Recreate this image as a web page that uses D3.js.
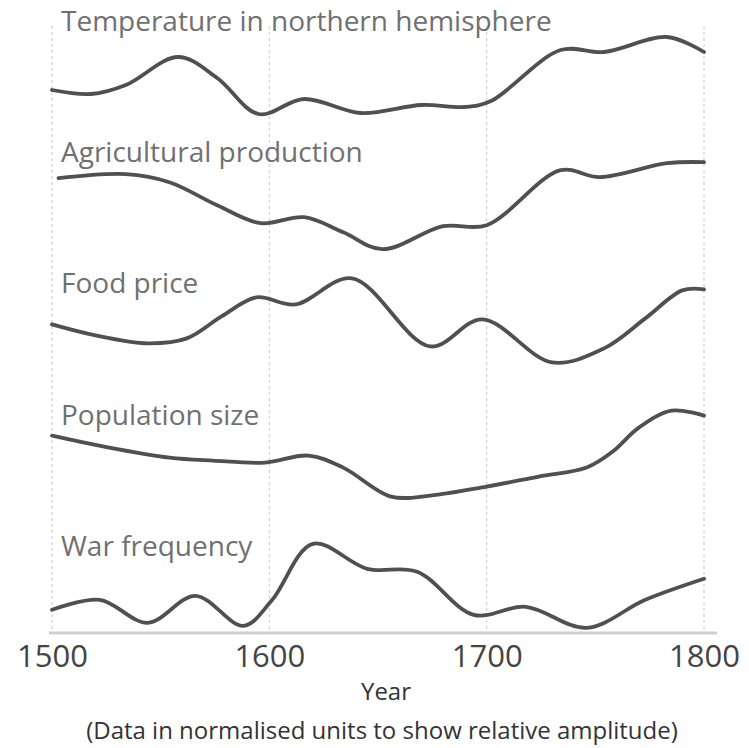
<!DOCTYPE html>
<html>
<head>
<meta charset="utf-8">
<script src="https://cdn.jsdelivr.net/npm/d3@7"></script>
<style>
  body { margin: 0; background: #fff; }
  svg text { font-family: "Open Sans", sans-serif; }
</style>
</head>
<body>
<div id="chart"></div>
<script>
'use strict';

const width = 749;
const height = 748;

// series names (panel titles), top to bottom
const seriesNames = [
    "Temperature in northern hemisphere",
    "Agricultural production",
    "Food price",
    "Population size",
    "War frequency"
];

// normalised units
const temperature = [
    [1500, 3.0], [1518, 2.6], [1534, 3.5], [1558, 6.3], [1576, 4.2], [1595, 0.6],
    [1616, 2.1], [1642, 0.7], [1670, 1.5], [1690, 1.3], [1702, 1.9], [1734, 7.0],
    [1754, 6.8], [1783, 8.3], [1800, 6.8]
];
const agriculture = [
    [1503, 7.3], [1534, 7.7], [1554, 6.9], [1576, 4.6], [1596, 2.8], [1616, 3.4],
    [1634, 1.9], [1652, 0.2], [1680, 2.5], [1700, 2.6], [1734, 8.1], [1752, 7.4],
    [1783, 8.8], [1800, 8.9]
];
const foodPrice = [
    [1500, 5.8], [1520, 4.7], [1544, 3.9], [1562, 4.4], [1578, 6.6], [1594, 8.5],
    [1612, 7.8], [1638, 10.4], [1674, 3.6], [1698, 6.3], [1730, 2.0], [1754, 3.4],
    [1773, 6.4], [1790, 9.2], [1800, 9.3]
];
const population = [
    [1500, 7.8], [1524, 6.7], [1554, 5.6], [1574, 5.3], [1598, 5.1], [1618, 5.8],
    [1634, 4.6], [1656, 1.7], [1674, 1.8], [1700, 2.7], [1724, 3.7], [1746, 4.6],
    [1758, 6.2], [1770, 8.6], [1785, 10.3], [1800, 9.8]
];
const war = [
    [1500, 3.5], [1522, 4.5], [1544, 2.2], [1566, 4.9], [1588, 1.9], [1601, 4.4],
    [1620, 10.1], [1645, 7.6], [1668, 7.3], [1694, 3.0], [1718, 3.8], [1746, 1.7],
    [1773, 4.5], [1800, 6.6]
];

const seriesValues = [temperature, agriculture, foodPrice, population, war];
const yearTicks = [1500, 1600, 1700, 1800];

const svg = d3.select("#chart").append("svg")
    .attr("width", width)
    .attr("height", height);

const x = d3.scaleLinear().domain([1500, 1800]).range([52, 704]);

// one band per panel
const panel = d3.scaleBand().domain(seriesNames).range([0, 656]);
const axisY = 633;

// dashed year gridlines
svg.append("g")
    .selectAll("line")
    .data(yearTicks)
    .join("line")
    .attr("x1", d => x(d))
    .attr("x2", d => x(d))
    .attr("y1", 26)
    .attr("y2", axisY)
    .attr("stroke", "#c8c8c8")
    .attr("stroke-width", 1)
    .attr("stroke-dasharray", "3,3");

const line = d3.line()
    .x(d => x(d[0]))
    .curve(d3.curveCatmullRom.alpha(0.5));

seriesNames.forEach((name, i) => {
    const top = panel(name);
    const y = d3.scaleLinear().domain([0, 10]).range([top + 120, top + 20]);
    const g = svg.append("g");

    g.append("text")
        .attr("x", 61)
        .attr("y", top + 31)
        .attr("font-size", 28)
        .attr("fill", "#707070")
        .text(name);

    g.append("path")
        .attr("d", line.y(d => y(d[1]))(seriesValues[i]))
        .attr("fill", "none")
        .attr("stroke", "#505050")
        .attr("stroke-width", 3.8)
        .attr("stroke-linecap", "round");
});

// x axis
const xAxis = d3.axisBottom(x).tickValues(yearTicks).tickFormat(d3.format("d")).tickSize(0).tickPadding(12);
const ax = svg.append("g")
    .attr("transform", `translate(0,${axisY})`)
    .call(xAxis);
ax.select(".domain").remove();
ax.append("line")
    .attr("x1", 49).attr("x2", 717)
    .attr("stroke", "#cfcfcf")
    .attr("stroke-width", 3);
ax.selectAll(".tick text")
    .attr("font-size", 31)
    .attr("font-family", "'Open Sans', sans-serif")
    .attr("fill", "#444");

svg.append("text")
    .attr("x", 386)
    .attr("y", 700)
    .attr("text-anchor", "middle")
    .attr("font-size", 24)
    .attr("fill", "#333")
    .text("Year");

svg.append("text")
    .attr("x", 382)
    .attr("y", 739)
    .attr("text-anchor", "middle")
    .attr("font-size", 24)
    .attr("fill", "#333")
    .text("(Data in normalised units to show relative amplitude)");
</script>
</body>
</html>
